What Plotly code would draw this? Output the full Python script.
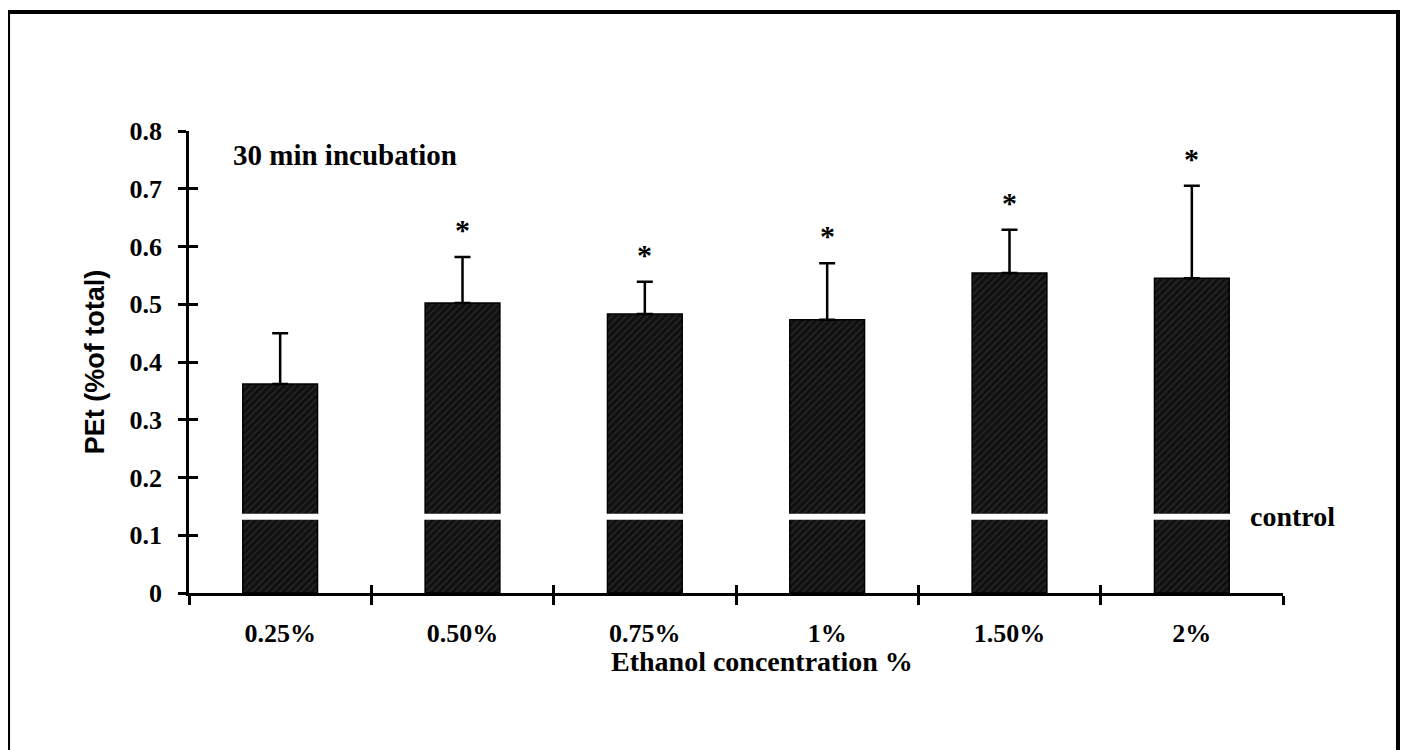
import plotly.graph_objects as go

categories = ["0.25%", "0.50%", "0.75%", "1%", "1.50%", "2%"]
means = [0.362, 0.502, 0.483, 0.473, 0.554, 0.545]
errors = [0.088, 0.080, 0.056, 0.098, 0.075, 0.160]
significant = [False, True, True, True, True, True]
control = 0.132
y_ticks = [0, 0.1, 0.2, 0.3, 0.4, 0.5, 0.6, 0.7, 0.8]
y_tick_labels = ["0", "0.1", "0.2", "0.3", "0.4", "0.5", "0.6", "0.7", "0.8"]

SERIF = "Liberation Serif, Times New Roman, serif"
SANS = "Liberation Sans, Arial, sans-serif"
n = len(categories)
boundaries = [i - 0.5 for i in range(n + 1)]

fig = go.Figure()
fig.add_trace(go.Bar(
    x=categories, y=means, width=0.41,
    marker=dict(color="#101010", line=dict(color="black", width=1.5),
                pattern=dict(shape="/", fgcolor="#3e3e3e", bgcolor="#101010",
                             size=5, solidity=0.3)),
    error_y=dict(type="data", array=errors, arrayminus=[0] * n, symmetric=False,
                 color="black", thickness=2.5, width=8),
    showlegend=False, hoverinfo="skip",
))
fig.add_trace(go.Scatter(x=[None], y=[None], xaxis="x2", yaxis="y2",
                         showlegend=False, hoverinfo="skip"))

annotations = []
for c, m, e, s in zip(categories, means, errors, significant):
    if s:
        annotations.append(dict(x=c, y=m + e, xref="x", yref="y", text="*",
                                showarrow=False, yanchor="bottom", yshift=9,
                                font=dict(family=SERIF, size=30, color="black", weight="bold")))
annotations.append(dict(x=0.0384, y=0.948, xref="paper", yref="paper",
                        text="30 min incubation", showarrow=False,
                        xanchor="left", yanchor="middle",
                        font=dict(family=SERIF, size=29, color="black", weight="bold")))
annotations.append(dict(x=0.968, y=control, xref="paper", yref="y",
                        text="control", showarrow=False,
                        xanchor="left", yanchor="middle",
                        font=dict(family=SERIF, size=28, color="black", weight="bold")))
annotations.append(dict(x=0.524, y=-0.149, xref="paper", yref="paper",
                        text="Ethanol concentration %", showarrow=False,
                        xanchor="center", yanchor="middle",
                        font=dict(family=SERIF, size=28, color="black", weight="bold")))

shapes = [
    dict(type="line", xref="paper", yref="y", x0=0.006, x1=0.995,
         y0=control, y1=control, line=dict(color="white", width=6), layer="above"),
    dict(type="rect", xref="paper", yref="paper", x0=-0.1654, x1=1.1051,
         y0=-0.40, y1=1.2576, line=dict(color="black", width=4), layer="above"),
]

fig.update_layout(
    width=1401, height=742,
    margin=dict(l=181, r=126, t=123, b=157),
    plot_bgcolor="white", paper_bgcolor="white",
    xaxis=dict(type="category", tickson="boundaries", range=[-0.5, n - 0.5],
               ticks="outside", ticklen=9, tickwidth=2.5, tickcolor="black",
               showline=True, linewidth=2.5, linecolor="black", showgrid=False,
               tickfont=dict(family=SERIF, size=26, color="black", weight="bold"),
               ticklabelstandoff=15),
    xaxis2=dict(overlaying="x", anchor="y", type="linear", range=[-0.5, n - 0.5],
                tickvals=boundaries, ticks="inside", ticklen=8, tickwidth=2.5,
                tickcolor="black", showticklabels=False, showgrid=False,
                zeroline=False, showline=False),
    yaxis=dict(range=[0, 0.8], tickvals=y_ticks, ticktext=y_tick_labels,
               ticks="outside", ticklen=8, tickwidth=2.5, tickcolor="black",
               showline=True, linewidth=2.5, linecolor="black", showgrid=False,
               zeroline=False,
               tickfont=dict(family=SERIF, size=26, color="black", weight="bold"),
               ticklabelstandoff=11,
               title=dict(text="PEt (%of total)", standoff=18,
                          font=dict(family=SANS, size=27, color="black", weight="bold"))),
    yaxis2=dict(overlaying="y", anchor="x", range=[0, 0.8], tickvals=y_ticks,
                ticks="inside", ticklen=9, tickwidth=2.5, tickcolor="black",
                showticklabels=False, showgrid=False, zeroline=False, showline=False),
    annotations=annotations,
    shapes=shapes,
    bargap=0.59,
)

fig.write_html("out.html")
